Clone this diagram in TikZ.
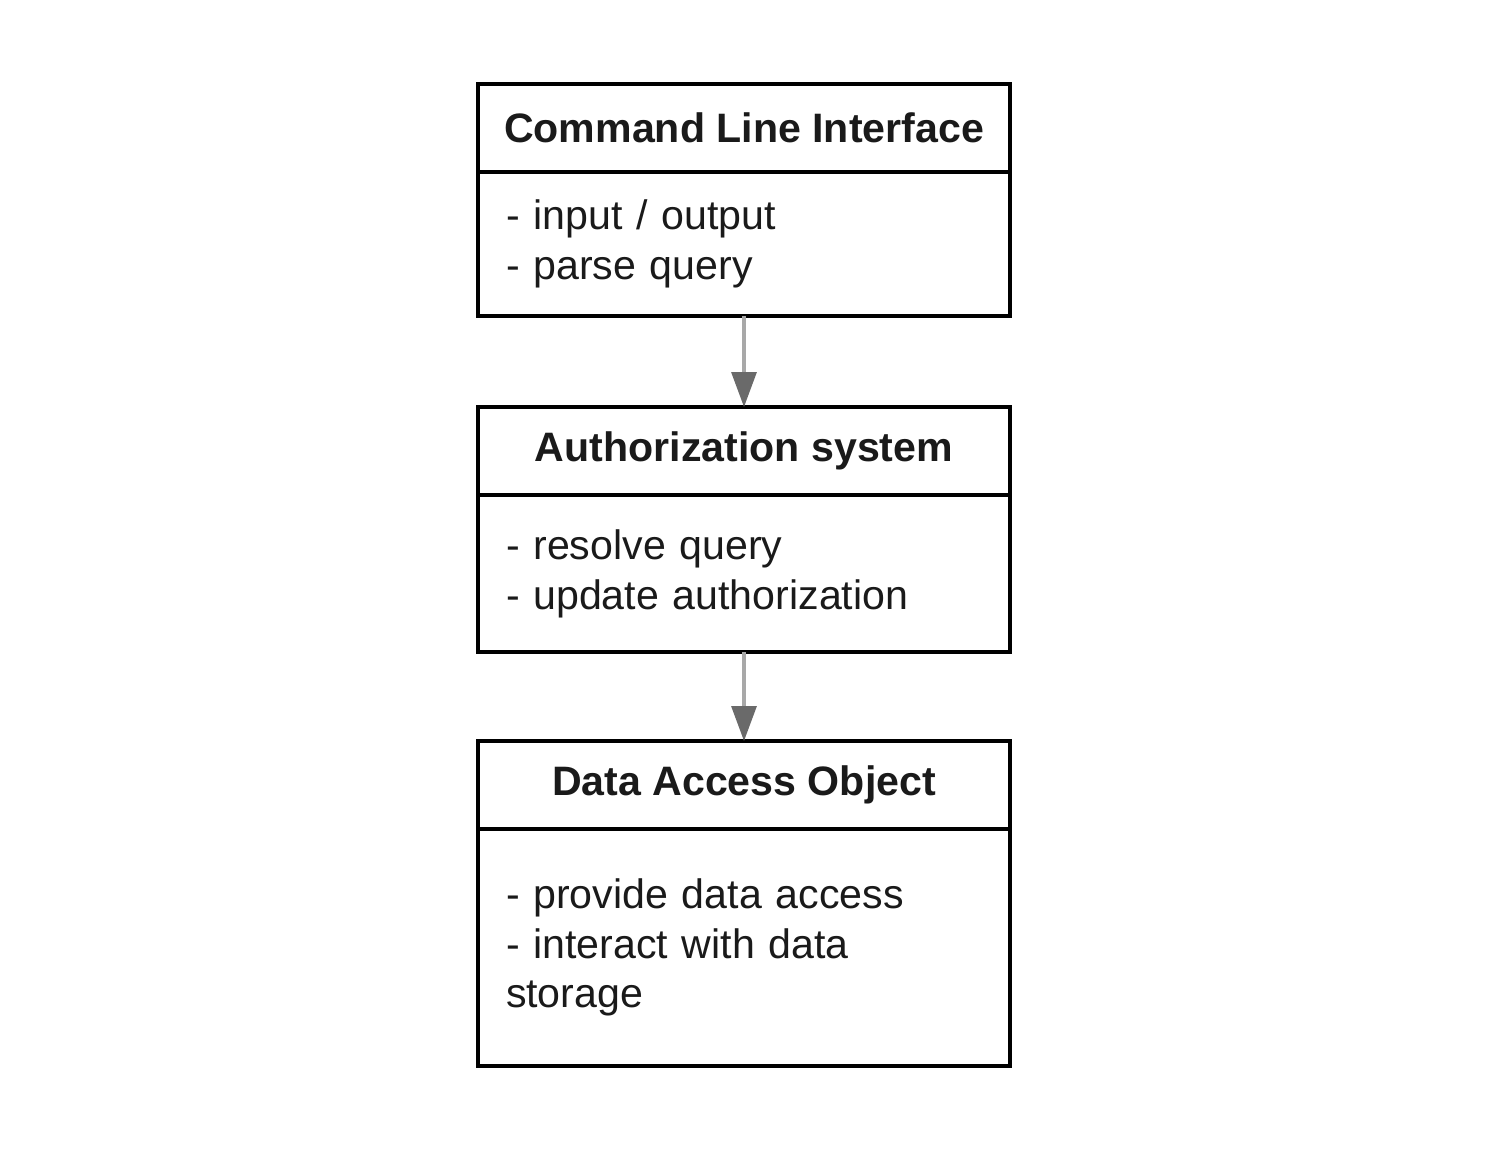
\documentclass[tikz,border=0pt]{standalone}
\usepackage{fontspec}
\setmainfont{Liberation Sans}
\usetikzlibrary{positioning,arrows.meta}
\definecolor{linegray}{HTML}{A8A8A8}
\definecolor{tipgray}{HTML}{6A6A6A}
\definecolor{inkblack}{HTML}{1A1A1A}

\begin{document}
\begin{tikzpicture}
   \tikzstyle{every node}=[draw, line width=1.9pt, outer sep=0pt, text=inkblack, font=\fontsize{23.4}{28.3}\selectfont]
   \tikzstyle{headbox}=[minimum width=10.64cm, minimum height=1.76cm, inner sep=0pt, font=\fontsize{23.4}{28.3}\selectfont\bfseries]
   \tikzstyle{bodybox}=[text width=9.52cm, inner xsep=0.56cm, inner ysep=0pt, align=left]
   \tikzstyle{flow}=[draw=linegray, line width=1.8pt, -{Triangle[length=0.7cm, width=0.5cm, color=tipgray]}]

\useasboundingbox (0,0) rectangle (29.76,-23.32);

\node[headbox] (cli) at (14.88,-2.56) {Command Line Interface};
\node[bodybox, minimum height=2.88cm, below=0pt of cli] (clibody)
    {- input / output\\- parse query};

\node[headbox, below=1.82cm of clibody] (auth) {Authorization system};
\node[bodybox, minimum height=3.14cm, below=0pt of auth] (authbody)
    {- resolve query\\- update authorization};

\node[headbox, below=1.78cm of authbody] (dao) {Data Access Object};
\node[bodybox, minimum height=4.74cm, below=0pt of dao] (daobody)
    {- provide data access\\- interact with data\\storage};

\draw[flow] (clibody) -- (auth);
\draw[flow] (authbody) -- (dao);

\end{tikzpicture}
\end{document}
